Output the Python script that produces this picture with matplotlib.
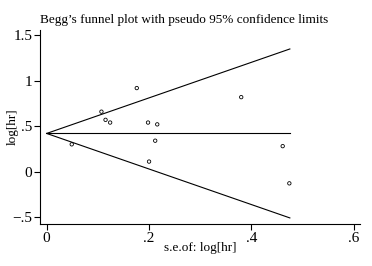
import numpy as np
import matplotlib
matplotlib.use("Agg")
import matplotlib.pyplot as plt

# study standard errors and log hazard ratios
se_loghr = [0.049, 0.107, 0.115, 0.124, 0.176, 0.198, 0.200, 0.212, 0.216, 0.380, 0.461, 0.474]
loghr = [0.30, 0.66, 0.57, 0.54, 0.92, 0.54, 0.11, 0.34, 0.52, 0.82, 0.28, -0.13]
pooled = 0.42
se_max = 0.475

x_ticks = [0, 0.2, 0.4, 0.6]
x_tick_labels = ["0", ".2", ".4", ".6"]
y_ticks = [-0.5, 0, 0.5, 1, 1.5]
y_tick_labels = ["\u2212.5", "0", ".5", "1", "1.5"]

plt.rcParams['font.family'] = ['Liberation Serif', 'DejaVu Serif']

fig = plt.figure(figsize=(3.72, 2.66), dpi=100)
ax = fig.add_axes([40 / 372, 42 / 266, 320 / 372, 194 / 266])

# pseudo 95% confidence limits
se_line = np.array([0, se_max])
ax.plot(se_line, pooled + 1.96 * se_line, color="black", lw=0.8)
ax.plot(se_line, pooled - 1.96 * se_line, color="black", lw=0.8)
ax.plot(se_line, [pooled, pooled], color="black", lw=0.8)

ax.scatter(se_loghr, loghr, s=6, facecolors="none", edgecolors="black", linewidths=0.6)

ax.set_xlim(-0.013, 0.612)
ax.set_ylim(-0.578, 1.56)
ax.set_xticks(x_ticks)
ax.set_xticklabels(x_tick_labels)
ax.set_yticks(y_ticks)
ax.set_yticklabels(y_tick_labels)
ax.tick_params(labelsize=11, length=4, width=0.8, pad=1.5)

for side in ["top", "right"]:
    ax.spines[side].set_visible(False)
for side in ["left", "bottom"]:
    ax.spines[side].set_linewidth(0.8)

ax.set_xlabel("s.e.of: log[hr]", fontsize=9.5)
ax.xaxis.set_label_coords(0.5, -(248 - 224) / 194, transform=ax.transAxes)
ax.set_ylabel("log[hr]", fontsize=9.5)
ax.yaxis.set_label_coords(-(40 - 13) / 320, 0.5)
ax.xaxis.label.set_va("center")
ax.yaxis.label.set_va("center")
fig.text(40 / 372, 1 - 20 / 266, "Begg\u2019s funnel plot with pseudo 95% confidence limits",
         fontsize=9.5, va="center", ha="left")

fig.savefig("out.png", dpi=100)
